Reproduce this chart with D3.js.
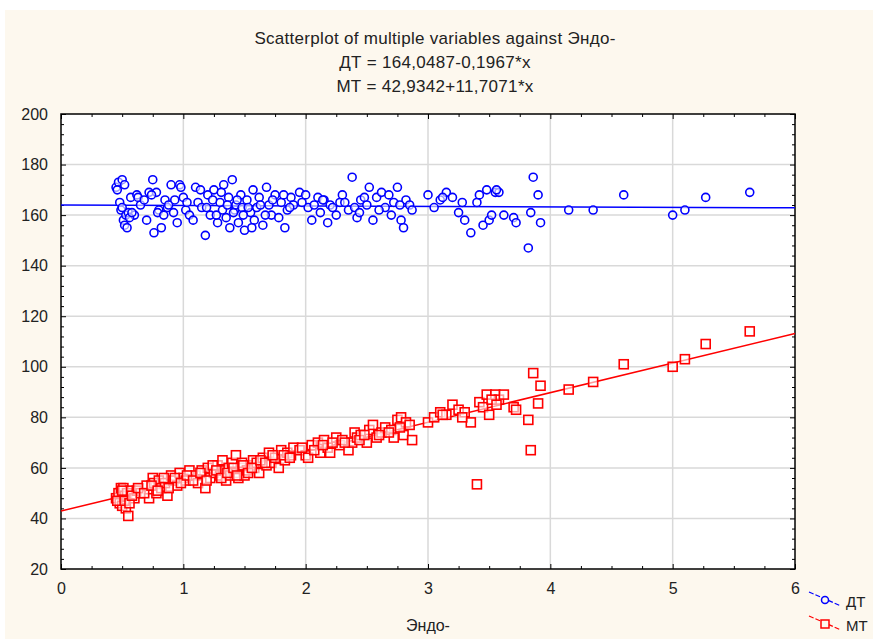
<!DOCTYPE html>
<html>
<head>
<meta charset="utf-8">
<script src="https://cdn.jsdelivr.net/npm/d3@7"></script>
<style>
  body { margin: 0; background: #ffffff; }
  text { font-family: "Liberation Sans", Arial, sans-serif; fill: #222; }
  .axis path { display: none; }
  .axis line { stroke: #000; }
</style>
</head>
<body>
<div id="chart"></div>
<script>
// Chart size
var svgWidth = 873;
var svgHeight = 639;

var margin = { top: 114, right: 78, bottom: 70, left: 61 };
var width = svgWidth - margin.left - margin.right;
var height = svgHeight - margin.top - margin.bottom;

// Data: Эндо- value with matching ДТ and МТ
var endo = [0.45, 0.47, 0.48, 0.49, 0.50, 0.51, 0.52, 0.53, 0.54, 0.55, 0.57, 0.60, 0.62, 0.65, 0.70, 0.72,
  0.75, 0.76, 0.78, 0.80, 0.82, 0.85, 0.87, 0.90, 0.92, 0.95, 0.97, 1.00, 1.02, 1.05, 1.10, 1.12,
  1.15, 1.18, 1.20, 1.22, 1.25, 1.28, 1.30, 1.32, 1.33, 1.35, 1.37, 1.38, 1.40, 1.42, 1.43, 1.45,
  1.47, 1.48, 1.50, 1.52, 1.55, 1.57, 1.58, 1.60, 1.62, 1.65, 1.68, 1.70, 1.72, 1.75, 1.78, 1.80,
  1.83, 1.85, 1.88, 1.90, 1.95, 2.00, 2.02, 2.05, 2.10, 2.12, 2.15, 2.18, 2.20, 2.25, 2.28, 2.30,
  2.35, 2.38, 2.40, 2.42, 2.45, 2.50, 2.52, 2.55, 2.58, 2.62, 2.65, 2.70, 2.72, 2.75, 2.78, 2.80,
  2.82, 2.85, 2.87, 3.00, 3.05, 3.10, 3.15, 3.20, 3.25, 3.30, 3.35, 3.40, 3.42, 3.45, 3.48, 3.50,
  3.55, 3.58, 3.62, 3.70, 3.72, 3.82, 3.84, 3.86, 3.90, 3.92, 4.15, 4.35, 4.60, 5.00, 5.10, 5.27, 5.63,
  0.46, 0.50, 0.52, 0.56, 0.58, 0.63, 0.68, 0.74, 0.79, 0.84, 0.88, 0.93, 0.98, 1.03, 1.08, 1.14,
  1.19, 1.24, 1.27, 1.31, 1.36, 1.41, 1.44, 1.49, 1.53, 1.56, 1.63, 1.67, 1.73, 1.82, 1.87, 1.97,
  2.07, 2.14, 2.22, 2.32, 2.44, 2.48, 2.60, 2.68, 2.77, 3.12, 3.28, 3.52, 3.56];

var dtValues = [171, 173, 165, 162, 174, 158, 156, 160, 155, 161, 167, 160, 168, 164, 158, 169,
  174, 153, 169, 162, 155, 166, 163, 172, 161, 157, 172, 167, 162, 160, 171, 165,
  163, 152, 168, 160, 170, 157, 165, 162, 172, 159, 167, 155, 174, 162, 164, 157,
  168, 163, 154, 166, 161, 170, 158, 163, 167, 156, 171, 164, 160, 168, 159, 165,
  155, 162, 167, 164, 169, 168, 163, 158, 167, 161, 166, 157, 164, 160, 165, 168,
  162, 175, 163, 159, 166, 164, 171, 158, 167, 169, 163, 160, 165, 171, 158, 155,
  166, 164, 162, 168, 163, 166, 169, 167, 161, 158, 153, 165, 168, 156, 170, 158,
  169, 169, 160, 159, 157, 147, 161, 175, 168, 157, 162, 162, 168, 160, 162, 167, 169,
  170, 163, 172, 159, 161, 167, 166, 168, 161, 160, 164, 166, 171, 165, 158, 170,
  163, 166, 160, 169, 164, 161, 166, 160, 163, 155, 164, 160, 166, 168, 163, 165,
  164, 166, 163, 165, 161, 167, 162, 168, 164, 167, 165, 160, 170];

var mtValues = [48, 50, 46, 52, 45, 52, 49, 44, 50, 41, 51, 48, 51, 50, 53, 48,
  56, 54, 50, 55, 52, 54, 49, 57, 55, 53, 58, 56, 55, 59, 57, 54,
  59, 52, 60, 56, 58, 61, 57, 63, 59, 55, 60, 57, 62, 58, 65, 56,
  60, 62, 57, 59, 61, 63, 60, 62, 58, 64, 61, 66, 62, 64, 60, 67,
  63, 66, 65, 68, 67, 65, 64, 69, 70, 66, 71, 68, 66, 72, 69, 71,
  67, 70, 74, 72, 73, 70, 75, 77, 72, 74, 76, 75, 72, 79, 80, 73,
  78, 77, 71, 78, 80, 82, 81, 85, 83, 82, 78, 53.5, 86, 84, 89, 81,
  89, 87, 89, 84, 83, 79, 67, 97.5, 85.5, 92.5, 91, 94, 101, 100, 103, 109, 114,
  47, 51, 47, 46, 49, 52, 50, 53, 51, 56, 52, 56, 54, 57, 55, 58,
  55, 61, 59, 56, 58, 60, 57, 61, 58, 60, 63, 62, 65, 65, 64, 68,
  67, 69, 70, 70, 71, 73, 73, 74, 76, 81, 80, 87, 85];

// Regression lines from the title
var dtFit = [164.0487, -0.1967];
var mtFit = [42.9342, 11.7071];

var titleLines = ["Scatterplot of multiple variables against Эндо-",
  "ДТ = 164,0487-0,1967*x",
  "МТ = 42,9342+11,7071*x"];

var xTicks = [0, 1, 2, 3, 4, 5, 6];
var yTicks = [20, 40, 60, 80, 100, 120, 140, 160, 180, 200];

var svg = d3.select("#chart")
  .append("svg")
  .attr("width", svgWidth)
  .attr("height", svgHeight);

// cream page background
svg.append("rect")
  .attr("x", 5).attr("y", 10)
  .attr("width", svgWidth - 5).attr("height", svgHeight - 10)
  .attr("fill", "#fdf8ee");

var chartGroup = svg.append("g")
  .attr("transform", `translate(${margin.left}, ${margin.top})`);

var xScale = d3.scaleLinear().domain([0, 6]).range([0, width]);
var yScale = d3.scaleLinear().domain([20, 200]).range([height, 0]);

chartGroup.append("rect")
  .attr("width", width).attr("height", height)
  .attr("fill", "#ffffff");

// grid lines
chartGroup.append("g").selectAll("line")
  .data(xTicks.slice(1, -1))
  .enter().append("line")
  .attr("x1", d => xScale(d)).attr("x2", d => xScale(d))
  .attr("y1", 0).attr("y2", height)
  .attr("stroke", "#d9d9d9").attr("stroke-width", 1.5);

chartGroup.append("g").selectAll("line")
  .data(yTicks.slice(1, -1))
  .enter().append("line")
  .attr("y1", d => yScale(d)).attr("y2", d => yScale(d))
  .attr("x1", 0).attr("x2", width)
  .attr("stroke", "#d9d9d9").attr("stroke-width", 1.5);

// minor tick positions
var xMinor = d3.range(0, 6.001, 0.25).filter(v => Math.abs(v - Math.round(v)) > 0.01);
var yMinor = d3.range(20, 200.001, 4).filter(v => v % 20 !== 0);

function drawAxis(axisFn, scale, values, size, transform, labels) {
  var ax = axisFn(scale).tickValues(values).tickSizeInner(size).tickSizeOuter(0);
  if (!labels) ax.tickFormat("");
  else ax.tickPadding(labels).tickFormat(d3.format("d"));
  var g = chartGroup.append("g").attr("class", "axis").attr("transform", transform).call(ax);
  g.selectAll("text").style("font-size", "16px").style("font-family", "Liberation Sans, Arial, sans-serif").attr("fill", "#333");
  return g;
}

// left / right / top / bottom ticks, pointing inward
drawAxis(d3.axisLeft, yScale, yTicks, -5, "translate(0,0)", 13);
drawAxis(d3.axisLeft, yScale, yMinor, -3, "translate(0,0)", 0);
drawAxis(d3.axisRight, yScale, yTicks, -5, `translate(${width},0)`, 0);
drawAxis(d3.axisRight, yScale, yMinor, -3, `translate(${width},0)`, 0);
drawAxis(d3.axisBottom, xScale, xTicks, -5, `translate(0,${height})`, 14);
drawAxis(d3.axisBottom, xScale, xMinor, -3, `translate(0,${height})`, 0);
drawAxis(d3.axisTop, xScale, xTicks, -5, "translate(0,0)", 0);
drawAxis(d3.axisTop, xScale, xMinor, -3, "translate(0,0)", 0);

// frame
chartGroup.append("rect")
  .attr("width", width).attr("height", height)
  .attr("fill", "none").attr("stroke", "#000").attr("stroke-width", 1.5);

var plotArea = chartGroup.append("g");

// fitted lines
function fitLine(fit, color) {
  plotArea.append("line")
    .attr("x1", xScale(0)).attr("y1", yScale(fit[0]))
    .attr("x2", xScale(6)).attr("y2", yScale(fit[0] + fit[1] * 6))
    .attr("stroke", color).attr("stroke-width", 1.5);
}
fitLine(dtFit, "#0000ff");
fitLine(mtFit, "#ff0000");

// ДТ points (circles)
plotArea.append("g").selectAll("circle")
  .data(endo)
  .enter().append("circle")
  .attr("cx", d => xScale(d))
  .attr("cy", (d, i) => yScale(dtValues[i]))
  .attr("r", 4)
  .attr("fill", "#ffffff")
  .attr("fill-opacity", 0.6)
  .attr("stroke", "#0000ff")
  .attr("stroke-width", 1.6);

// МТ points (squares)
plotArea.append("g").selectAll("rect")
  .data(endo)
  .enter().append("rect")
  .attr("x", d => xScale(d) - 4.5)
  .attr("y", (d, i) => yScale(mtValues[i]) - 4.5)
  .attr("width", 9).attr("height", 9)
  .attr("fill", "#ffffff")
  .attr("fill-opacity", 0.6)
  .attr("stroke", "#ff0000")
  .attr("stroke-width", 1.6);

// titles
svg.selectAll(".title")
  .data(titleLines)
  .enter().append("text")
  .attr("class", "title")
  .attr("x", 435)
  .attr("y", (d, i) => 44 + i * 24)
  .attr("text-anchor", "middle")
  .style("font-size", "17px")
  .style("letter-spacing", "0.3px")
  .text(d => d);

// x axis label
svg.append("text")
  .attr("x", 428).attr("y", 631)
  .attr("text-anchor", "middle")
  .style("font-size", "16px")
  .text("Эндо-");

// legend (pushed against the right edge, as in the reference)
var legendItems = [
  { name: "ДТ", color: "#0000ff", shape: "circle", y: 600 },
  { name: "МТ", color: "#ff0000", shape: "square", y: 624 }
];
var legend = svg.append("g");
legendItems.forEach(function(item) {
  legend.append("line")
    .attr("x1", 809).attr("y1", item.y - 8)
    .attr("x2", 841).attr("y2", item.y + 6)
    .attr("stroke", item.color).attr("stroke-width", 1.2)
    .attr("stroke-dasharray", "5,2");
  if (item.shape === "circle") {
    legend.append("circle").attr("cx", 825).attr("cy", item.y).attr("r", 3.5)
      .attr("fill", "#fdf8ee").attr("stroke", item.color).attr("stroke-width", 1.5);
  } else {
    legend.append("rect").attr("x", 821).attr("y", item.y - 4).attr("width", 8).attr("height", 8)
      .attr("fill", "#fdf8ee").attr("stroke", item.color).attr("stroke-width", 1.5);
  }
  legend.append("text")
    .attr("x", 846).attr("y", item.y + 7)
    .style("font-size", "15px")
    .text(item.name);
});
</script>
</body>
</html>
